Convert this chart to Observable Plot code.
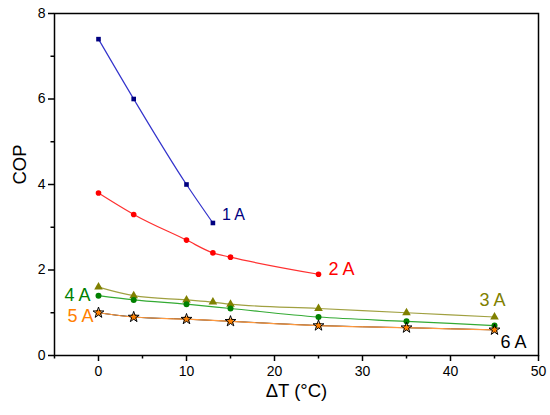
<!DOCTYPE html>
<html>
<head>
<meta charset="utf-8">
<script src="https://cdn.jsdelivr.net/npm/d3@7"></script>
<script src="https://cdn.jsdelivr.net/npm/@observablehq/plot@0.6"></script>
<style>
  html, body { margin: 0; padding: 0; background: #fff; }
  #chart { width: 550px; height: 415px; }
</style>
</head>
<body>
<div id="chart"></div>
<script>
// Series data
const dT1 = [0, 4, 10, 13];
const cop1 = [7.4, 6.0, 4.0, 3.1];
const dT2 = [0, 4, 10, 13, 15, 25];
const cop2 = [3.8, 3.3, 2.7, 2.4, 2.3, 1.9];
const dT3 = [0, 4, 10, 13, 15, 25, 35, 45];
const cop3 = [1.6, 1.4, 1.3, 1.25, 1.2, 1.1, 1.0, 0.9];
const dT4 = [0, 4, 10, 15, 25, 35, 45];
const cop4 = [1.4, 1.3, 1.2, 1.1, 0.9, 0.8, 0.7];
const dT5 = [0, 4, 10, 15, 25, 35, 45];
const cop5 = [1.0, 0.9, 0.85, 0.8, 0.7, 0.65, 0.6];
const dT6 = [0, 4, 10, 15, 25, 35, 45];
const cop6 = [1.0, 0.9, 0.85, 0.8, 0.7, 0.65, 0.6];

const seriesNames = ["1 A", "2 A", "3 A", "4 A", "5 A", "6 A"];

const xMajor = [0, 10, 20, 30, 40, 50];
const xMinor = [-5, 5, 15, 25, 35, 45];
const yMajor = [0, 2, 4, 6, 8];
const yMinor = [1, 3, 5, 7];

const toRows = (xs, ys) => xs.map((x, i) => ({x, y: ys[i]}));
const s1 = toRows(dT1, cop1), s2 = toRows(dT2, cop2), s3 = toRows(dT3, cop3),
      s4 = toRows(dT4, cop4), s5 = toRows(dT5, cop5), s6 = toRows(dT6, cop6);

const font = "Liberation Sans, Arial, Helvetica, sans-serif";
const curve = "monotone-x";

const chart = Plot.plot({
  width: 550,
  height: 415,
  marginLeft: 54,
  marginRight: 12,
  marginTop: 13,
  marginBottom: 60,
  style: {fontFamily: font, fontSize: "14px", background: "#fff", color: "#000"},
  x: {type: "linear", domain: [-5, 50]},
  y: {type: "linear", domain: [0, 8]},
  marks: [
    // axes
    Plot.axisX({ticks: xMajor, tickSize: 6, tickPadding: 5, fontSize: 14, label: null, strokeWidth: 1.5}),
    Plot.axisX({ticks: xMinor, tickSize: 3.5, text: null, label: null, strokeWidth: 1.5}),
    Plot.axisY({ticks: yMajor, tickSize: 6, tickPadding: 3, fontSize: 14, label: null, strokeWidth: 1.5}),
    Plot.axisY({ticks: yMinor, tickSize: 3.5, text: null, label: null, strokeWidth: 1.5}),
    Plot.frame({stroke: "#000", strokeWidth: 1.5}),
    // lines
    Plot.line(s6, {x: "x", y: "y", stroke: "#000", strokeWidth: 1, curve}),
    Plot.line(s5, {x: "x", y: "y", stroke: "#ff9a40", strokeWidth: 1.2, curve}),
    Plot.line(s4, {x: "x", y: "y", stroke: "#33aa33", strokeWidth: 1.2, curve}),
    Plot.line(s3, {x: "x", y: "y", stroke: "#a0a040", strokeWidth: 1.2, curve}),
    Plot.line(s2, {x: "x", y: "y", stroke: "#ff3030", strokeWidth: 1.2, curve}),
    Plot.line(s1, {x: "x", y: "y", stroke: "#3333cc", strokeWidth: 1.2, curve}),
    // markers
    Plot.dot(s1, {x: "x", y: "y", symbol: "square", r: 2.6, fill: "#000080"}),
    Plot.dot(s2, {x: "x", y: "y", symbol: "circle", r: 2.8, fill: "#ff0000"}),
    Plot.dot(s3, {x: "x", y: "y", symbol: "triangle", r: 3.2, fill: "#808000"}),
    Plot.dot(s4, {x: "x", y: "y", symbol: "circle", r: 3, fill: "#008000"}),
    Plot.dot(s5, {x: "x", y: "y", symbol: "square", r: 3, fill: "#ff8000"}),
    Plot.dot(s6, {x: "x", y: "y", symbol: "star", r: 3.4, fill: "none", stroke: "#000", strokeWidth: 1}),
    // series labels, positioned relative to the series' end points
    Plot.text([s1[s1.length - 1]], {x: "x", y: "y", text: [seriesNames[0]], dx: 9, dy: -8, textAnchor: "start", fill: "#000080", fontSize: 16}),
    Plot.text([s2[s2.length - 1]], {x: "x", y: "y", text: [seriesNames[1]], dx: 10, dy: -5, textAnchor: "start", fill: "#ff0000", fontSize: 18}),
    Plot.text([s3[s3.length - 1]], {x: "x", y: "y", text: [seriesNames[2]], dx: -2, dy: -17, textAnchor: "middle", fill: "#808000", fontSize: 18}),
    Plot.text([s4[0]], {x: "x", y: "y", text: [seriesNames[3]], dx: -8, dy: 0, textAnchor: "end", fill: "#008000", fontSize: 18}),
    Plot.text([s5[0]], {x: "x", y: "y", text: [seriesNames[4]], dx: -5, dy: 3, textAnchor: "end", fill: "#ff8000", fontSize: 18}),
    Plot.text([s6[s6.length - 1]], {x: "x", y: "y", text: [seriesNames[5]], dx: 6, dy: 12, textAnchor: "start", fill: "#000", fontSize: 18}),
    // axis titles
    Plot.text(["ΔT (°C)"], {frameAnchor: "bottom", dy: 41, fontSize: 18.5, fill: "#000"}),
    Plot.text(["COP"], {frameAnchor: "left", dx: -34, rotate: -90, fontSize: 18.5, fill: "#000"})
  ]
});
document.getElementById("chart").appendChild(chart);
</script>
</body>
</html>
